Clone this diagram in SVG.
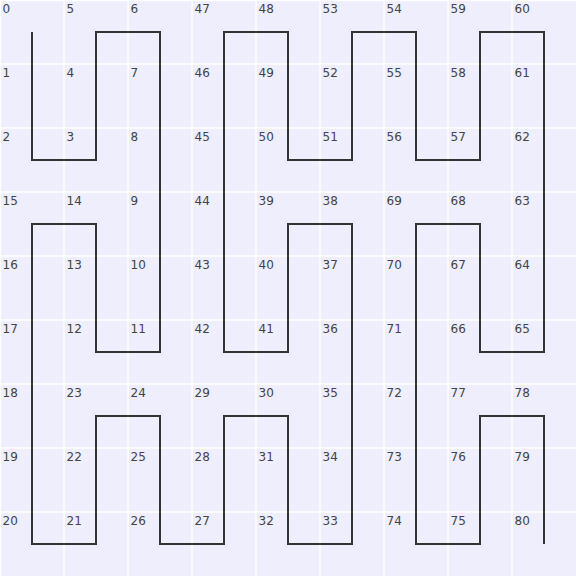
<svg xmlns="http://www.w3.org/2000/svg" width="576" height="576" viewBox="0 0 576 576">
<style>
.grid{stroke:#ffffff;stroke-width:1.5}
.lbl{font-family:"DejaVu Sans",sans-serif;font-size:12px;fill:#444}
.curve{fill:none;stroke:#333;stroke-width:2;stroke-linejoin:miter}
</style>
<rect width="576" height="576" fill="#eeeefc"/>
<g id="grid" class="grid">
<line x1="0.5" y1="0" x2="0.5" y2="576"/><line x1="64" y1="0" x2="64" y2="576"/><line x1="128" y1="0" x2="128" y2="576"/><line x1="192" y1="0" x2="192" y2="576"/><line x1="256" y1="0" x2="256" y2="576"/><line x1="320" y1="0" x2="320" y2="576"/><line x1="384" y1="0" x2="384" y2="576"/><line x1="448" y1="0" x2="448" y2="576"/><line x1="512" y1="0" x2="512" y2="576"/>
<line x1="0" y1="0.5" x2="576" y2="0.5"/><line x1="0" y1="64" x2="576" y2="64"/><line x1="0" y1="128" x2="576" y2="128"/><line x1="0" y1="192" x2="576" y2="192"/><line x1="0" y1="256" x2="576" y2="256"/><line x1="0" y1="320" x2="576" y2="320"/><line x1="0" y1="384" x2="576" y2="384"/><line x1="0" y1="448" x2="576" y2="448"/><line x1="0" y1="512" x2="576" y2="512"/>
</g>
<g id="labels" class="lbl" transform="translate(-0.5,0.5)">
<text x="3" y="12">0</text><text x="67" y="12">5</text><text x="131" y="12">6</text><text x="195" y="12">47</text><text x="259" y="12">48</text><text x="323" y="12">53</text><text x="387" y="12">54</text><text x="451" y="12">59</text><text x="515" y="12">60</text>
<text x="3" y="76">1</text><text x="67" y="76">4</text><text x="131" y="76">7</text><text x="195" y="76">46</text><text x="259" y="76">49</text><text x="323" y="76">52</text><text x="387" y="76">55</text><text x="451" y="76">58</text><text x="515" y="76">61</text>
<text x="3" y="140">2</text><text x="67" y="140">3</text><text x="131" y="140">8</text><text x="195" y="140">45</text><text x="259" y="140">50</text><text x="323" y="140">51</text><text x="387" y="140">56</text><text x="451" y="140">57</text><text x="515" y="140">62</text>
<text x="3" y="204">15</text><text x="67" y="204">14</text><text x="131" y="204">9</text><text x="195" y="204">44</text><text x="259" y="204">39</text><text x="323" y="204">38</text><text x="387" y="204">69</text><text x="451" y="204">68</text><text x="515" y="204">63</text>
<text x="3" y="268">16</text><text x="67" y="268">13</text><text x="131" y="268">10</text><text x="195" y="268">43</text><text x="259" y="268">40</text><text x="323" y="268">37</text><text x="387" y="268">70</text><text x="451" y="268">67</text><text x="515" y="268">64</text>
<text x="3" y="332">17</text><text x="67" y="332">12</text><text x="131" y="332">11</text><text x="195" y="332">42</text><text x="259" y="332">41</text><text x="323" y="332">36</text><text x="387" y="332">71</text><text x="451" y="332">66</text><text x="515" y="332">65</text>
<text x="3" y="396">18</text><text x="67" y="396">23</text><text x="131" y="396">24</text><text x="195" y="396">29</text><text x="259" y="396">30</text><text x="323" y="396">35</text><text x="387" y="396">72</text><text x="451" y="396">77</text><text x="515" y="396">78</text>
<text x="3" y="460">19</text><text x="67" y="460">22</text><text x="131" y="460">25</text><text x="195" y="460">28</text><text x="259" y="460">31</text><text x="323" y="460">34</text><text x="387" y="460">73</text><text x="451" y="460">76</text><text x="515" y="460">79</text>
<text x="3" y="524">20</text><text x="67" y="524">21</text><text x="131" y="524">26</text><text x="195" y="524">27</text><text x="259" y="524">32</text><text x="323" y="524">33</text><text x="387" y="524">74</text><text x="451" y="524">75</text><text x="515" y="524">80</text>
</g>
<g id="connectors">
<path class="curve" d="M32,32 V160 H96 V32 H160 V352 H96 V224 H32 V544 H96 V416 H160 V544 H224 V416 H288 V544 H352 V224 H288 V352 H224 V32 H288 V160 H352 V32 H416 V160 H480 V32 H544 V352 H480 V224 H416 V544 H480 V416 H544 V544"/>
</g>
</svg>
